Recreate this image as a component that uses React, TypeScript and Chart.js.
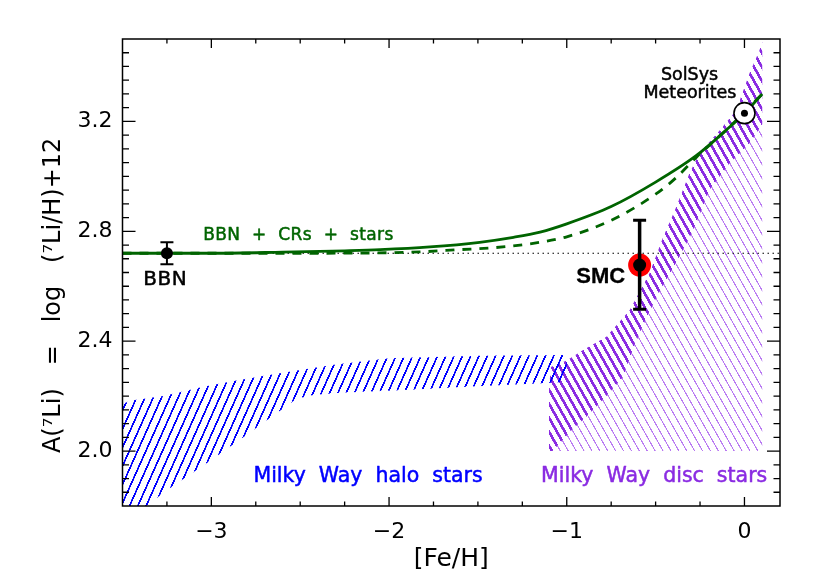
import React, { useEffect, useRef } from "react";
import { Chart, registerables } from "chart.js";

Chart.register(...registerables);

const FONT = '"DejaVu Sans", sans-serif';

// Axis
const xMajorTicks = [-3, -2, -1, 0];
const yMajorTicks = [2.0, 2.4, 2.8, 3.2];

// Green model curves
const solidX = [-3.5, -3, -2.6, -2.25, -2.05, -1.77, -1.49, -1.3, -1.15, -1, -0.75, -0.5, -0.27, -0.1, 0, 0.1];
const solidY = [2.72, 2.72, 2.724, 2.729, 2.733, 2.743, 2.76, 2.778, 2.797, 2.827, 2.89, 2.979, 3.076, 3.17, 3.23, 3.3];
const dashedX = [-3.5, -3, -2.5, -2, -1.826, -1.61, -1.416, -1.21, -1, -0.75, -0.5, -0.385, -0.27, -0.084, 0, 0.1];
const dashedY = [2.72, 2.72, 2.72, 2.722, 2.725, 2.733, 2.74, 2.754, 2.78, 2.84, 2.935, 2.995, 3.07, 3.18, 3.235, 3.3];
const plateauY = 2.72;

// Blue halo band
const haloUpperX = [-3.5, -3.46, -3.27, -3.045, -2.876, -2.686, -2.5, -2.3, -2.0, -1.49, -1.0];
const haloUpperY = [2.17, 2.183, 2.2, 2.234, 2.255, 2.276, 2.295, 2.315, 2.338, 2.347, 2.35];
const haloLowerX = [-3.5, -3.366, -3.25, -3.0, -2.765, -2.52, -2.427, -2.275, -1.916, -1.563, -1.114, -1.0];
const haloLowerY = [1.8, 1.8, 1.857, 1.967, 2.076, 2.19, 2.204, 2.212, 2.222, 2.234, 2.248, 2.252];

// Purple disc bands
const discUpperX = [-1.1, -1.1, -1.09, -1.0, -0.91, -0.777, -0.646, -0.534, -0.46, -0.384, -0.31, -0.253, -0.14, -0.047, 0.028, 0.084, 0.1];
const discUpperY = [2.0, 2.22, 2.306, 2.33, 2.367, 2.416, 2.513, 2.647, 2.775, 2.888, 3.01, 3.084, 3.167, 3.24, 3.374, 3.458, 3.49];
const discMidX = [-1.08, -0.966, -0.89, -0.777, -0.683, -0.618, -0.562, -0.489, -0.433, -0.393, -0.29, -0.197, -0.084, 0.028, 0.1];
const discMidY = [2.0, 2.08, 2.125, 2.2, 2.27, 2.386, 2.47, 2.567, 2.63, 2.676, 2.8, 2.95, 3.047, 3.12, 3.19];
const discFloorY = 2.0;

// Points
const bbnX = -3.25;
const bbnY = 2.72;
const bbnLow = 2.68;
const bbnHigh = 2.76;
const smcX = -0.59;
const smcY = 2.677;
const smcLow = 2.516;
const smcHigh = 2.84;
const sunX = 0;
const sunY = 3.23;

// Text labels
const labelText = ["BBN  +  CRs  +  stars", "BBN", "SMC", "SolSys", "Meteorites", "Milky  Way  halo  stars", "Milky  Way  disc  stars"];
const labelX = [-2.51, -3.26, -0.809, -0.309, -0.307, -2.118, -0.508];
const labelY = [2.785, 2.622, 2.633, 3.367, 3.302, 1.905, 1.905];
const labelColor = ["#006400", "#000000", "#000000", "#000000", "#000000", "#0000ff", "#8a2be2"];
const labelSize = [17, 20, 22, 17.5, 17.5, 20.5, 20.5];
const labelSpacing = [0.4, 0.5, 0, 0, 0, 0, 0];
const labelFont = ["normal ", "normal ", "bold ", "normal ", "normal ", "normal ", "normal "];
const labelFamily = [FONT, FONT, '"Liberation Sans", sans-serif', FONT, FONT, FONT, FONT];

function pts(xs: number[], ys: number[]) {
  return xs.map((x, i) => ({ x, y: ys[i] }));
}

function hatch(w: number, h: number, lw: number, color: string, rising: boolean, phase: number) {
  const k = 10;
  const c = document.createElement("canvas");
  c.width = Math.round(w * k);
  c.height = Math.round(h * k);
  const g = c.getContext("2d")!;
  g.strokeStyle = color;
  g.lineWidth = lw * k;
  g.lineCap = "square";
  for (let i = -1; i <= 1; i++) {
    g.beginPath();
    if (rising) {
      g.moveTo((i - 0.5) * c.width, 1.5 * c.height);
      g.lineTo((i + 1.5) * c.width, -0.5 * c.height);
    } else {
      g.moveTo((i - 0.5) * c.width, -0.5 * c.height);
      g.lineTo((i + 1.5) * c.width, 1.5 * c.height);
    }
    g.stroke();
  }
  const p = g.createPattern(c, "repeat")!;
  p.setTransform(new DOMMatrix().translate(phase, 0).scale(1 / k));
  return p;
}

const framePlugin = {
  id: "frame",
  afterDraw(chart: any) {
    const { ctx, chartArea: a, scales } = chart;
    ctx.save();
    ctx.strokeStyle = "#000";
    ctx.lineWidth = 1.5;
    ctx.strokeRect(a.left, a.top, a.right - a.left, a.bottom - a.top);
    ctx.lineWidth = 1.3;
    ctx.beginPath();
    for (const t of scales.x.ticks) {
      if (t.value <= -3.5 + 1e-6 || t.value >= 0.2 - 1e-6) continue;
      const px = scales.x.getPixelForValue(t.value);
      const len = xMajorTicks.some((m) => Math.abs(m - t.value) < 1e-6) ? 9 : 4.5;
      ctx.moveTo(px, a.bottom);
      ctx.lineTo(px, a.bottom - len);
      ctx.moveTo(px, a.top);
      ctx.lineTo(px, a.top + len);
    }
    for (const t of scales.y.ticks) {
      if (t.value <= 1.8 + 1e-6 || t.value >= 3.5 - 1e-6) continue;
      const py = scales.y.getPixelForValue(t.value);
      const len = yMajorTicks.some((m) => Math.abs(m - t.value) < 1e-6) ? 13 : 6.5;
      ctx.moveTo(a.left, py);
      ctx.lineTo(a.left + len, py);
      ctx.moveTo(a.right, py);
      ctx.lineTo(a.right - len, py);
    }
    ctx.stroke();
    ctx.textAlign = "center";
    ctx.textBaseline = "middle";
    ctx.lineJoin = "round";
    labelText.forEach((text, i) => {
      ctx.font = `${labelFont[i]}${labelSize[i]}px ${labelFamily[i]}`;
      ctx.fillStyle = labelColor[i];
      ctx.strokeStyle = labelColor[i];
      ctx.lineWidth = labelFont[i] === "bold " ? 0.3 : 0.5;
      (ctx as any).letterSpacing = `${labelSpacing[i]}px`;
      const px = scales.x.getPixelForValue(labelX[i]);
      const py = scales.y.getPixelForValue(labelY[i]);
      ctx.fillText(text, px, py);
      ctx.strokeText(text, px, py);
    });
    (ctx as any).letterSpacing = "0px";
    ctx.restore();
  },
};

export default function App() {
  const ref = useRef<HTMLCanvasElement>(null);
  useEffect(() => {
    const thick = hatch(7.9, 14, 2.7, "#8a2be2", false, 5.2);
    const thin = hatch(7.9, 14, 1.1, "#b878f2", false, 5.7);
    const blue = hatch(8.25, 18.5, 1.7, "#0000ff", true, 7.9);
    const thickPoly = [...pts(discUpperX, discUpperY), ...pts([...discMidX].reverse(), [...discMidY].reverse())];
    const thinPoly = [
      ...pts(discMidX, discMidY),
      { x: discMidX[discMidX.length - 1], y: discFloorY },
    ];
    const bluePoly = [...pts(haloUpperX, haloUpperY), ...pts([...haloLowerX].reverse(), [...haloLowerY].reverse())];
    const poly = (data: any[], bg: any, order: number) => ({
      data,
      showLine: true,
      fill: "shape",
      backgroundColor: bg,
      borderColor: "rgba(0,0,0,0)",
      borderWidth: 0,
      pointRadius: 0,
      tension: 0,
      order,
    });
    const chart = new Chart(ref.current!, {
      type: "scatter",
      data: {
        datasets: [
          { data: [{ x: sunX, y: sunY }], pointRadius: 3.5, pointBackgroundColor: "#000", pointBorderWidth: 0, order: 0 },
          { data: [{ x: sunX, y: sunY }], pointRadius: 10.5, pointBackgroundColor: "#fff", pointBorderColor: "#000", pointBorderWidth: 1.6, order: 1 },
          { data: [{ x: smcX, y: smcY }], pointRadius: 6.5, pointBackgroundColor: "#000", pointBorderWidth: 0, order: 2 },
          { data: [{ x: smcX, y: smcLow }, { x: smcX, y: smcHigh }], showLine: true, borderColor: "#000", borderWidth: 3.5, pointStyle: "line", pointRadius: 6.5, pointBorderColor: "#000", pointBorderWidth: 3, order: 3 },
          { data: [{ x: smcX, y: smcY }], pointRadius: 11.5, pointBackgroundColor: "#ff0000", pointBorderWidth: 0, order: 4 },
          { data: [{ x: bbnX, y: bbnY }], pointRadius: 6, pointBackgroundColor: "#000", pointBorderWidth: 0, order: 5 },
          { data: [{ x: bbnX, y: bbnLow }, { x: bbnX, y: bbnHigh }], showLine: true, borderColor: "#000", borderWidth: 2, pointStyle: "line", pointRadius: 6.5, pointBorderColor: "#000", pointBorderWidth: 2, order: 6 },
          { data: pts(solidX, solidY), showLine: true, borderColor: "#006400", borderWidth: 2.8, pointRadius: 0, cubicInterpolationMode: "monotone", order: 7 },
          { data: pts(dashedX, dashedY), showLine: true, borderColor: "#006400", borderWidth: 2.8, borderDash: [9, 8], pointRadius: 0, cubicInterpolationMode: "monotone", order: 8 },
          { data: [{ x: -3.5, y: plateauY }, { x: 0.2, y: plateauY }], showLine: true, borderColor: "#000", borderWidth: 1.2, borderDash: [1.5, 3.5], pointRadius: 0, order: 9 },
          poly(bluePoly, blue, 10),
          poly(thickPoly, thick, 11),
          poly(thinPoly, thin, 12),
        ],
      } as any,
      options: {
        responsive: false,
        animation: false,
        devicePixelRatio: 1,
        events: [],
        layout: { padding: { left: 0, right: 37, top: 39, bottom: 0 } },
        plugins: { legend: { display: false }, tooltip: { enabled: false }, title: { display: false } },
        scales: {
          x: {
            type: "linear",
            min: -3.5,
            max: 0.2,
            afterFit: (s: any) => { s.height = 78; },
            grid: { display: false, drawTicks: false },
            border: { display: false },
            title: { display: true, text: "[Fe/H]", color: "#000", font: { family: FONT, size: 25 }, padding: { top: 0, bottom: 10 } },
            ticks: {
              stepSize: 0.25,
              includeBounds: false,
              autoSkip: false,
              maxRotation: 0,
              color: "#000",
              padding: 13,
              font: { family: FONT, size: 22 },
              callback: (v: any) => {
                const n = Number(v);
                return xMajorTicks.some((m) => Math.abs(m - n) < 1e-6) ? (n < 0 ? "\u2212" + Math.abs(n) : String(n)) : "";
              },
            },
          },
          y: {
            type: "linear",
            min: 1.8,
            max: 3.5,
            afterFit: (s: any) => { s.width = 122.5; },
            grid: { display: false, drawTicks: false },
            border: { display: false },
            title: { display: true, text: "A(\u2077Li)   =   log   (\u2077Li/H)+12      ", color: "#000", font: { family: FONT, size: 24 }, padding: { top: 39, bottom: 0 } },
            ticks: {
              stepSize: 0.05,
              autoSkip: false,
              color: "#000",
              padding: 10,
              font: { family: FONT, size: 22 },
              callback: (v: any) => {
                const n = Number(v);
                return yMajorTicks.some((m) => Math.abs(m - n) < 1e-6) ? n.toFixed(1) : "";
              },
            },
          },
        },
      },
      plugins: [framePlugin],
    } as any);
    return () => chart.destroy();
  }, []);
  return (
    <div style={{ position: "absolute", left: 0, top: 0, width: 817, height: 584, background: "#fff" }}>
      <canvas ref={ref} width={817} height={584} style={{ display: "block" }} />
    </div>
  );
}
